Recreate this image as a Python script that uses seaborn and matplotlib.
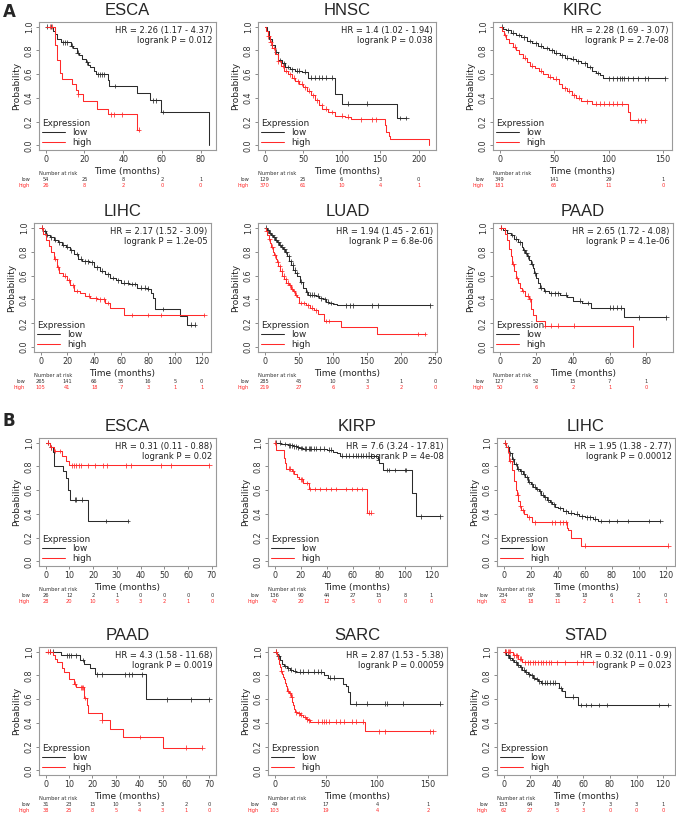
import numpy as np
import pandas as pd
import seaborn as sns
import matplotlib.pyplot as plt
from matplotlib.transforms import blended_transform_factory

# ---------------- data ----------------
# A: ESCA
a_esca_low_t = [0, 4, 5, 6, 8, 13, 14, 16, 17, 19, 21, 22, 23, 25, 26, 32, 32.7, 47, 54, 59.5, 84.5]
a_esca_low_s = [1.0, 0.96, 0.94, 0.90, 0.87, 0.84, 0.82, 0.78, 0.76, 0.73, 0.70, 0.68, 0.66, 0.63, 0.60, 0.55, 0.50, 0.44, 0.38, 0.28, 0.0]
a_esca_low_c = [1, 3, 9, 10, 11, 13.5, 16.5, 21.5, 27, 28, 29, 30, 36, 55.5, 57, 60.5]
a_esca_high_t = [0, 5, 6, 7.5, 8.5, 13.8, 15.5, 16.5, 19.5, 26.5, 32, 47, 48]
a_esca_high_s = [1.0, 0.85, 0.72, 0.61, 0.56, 0.52, 0.47, 0.43, 0.37, 0.31, 0.26, 0.13, 0.13]
a_esca_high_c = [2.5, 3.5, 16.8, 33.5, 35.5, 39.5, 48]
a_esca_risk_x = [0, 20, 40, 60, 80]
a_esca_risk_low = [54, 25, 8, 2, 1]
a_esca_risk_high = [26, 8, 2, 0, 0]

# A: HNSC
a_hnsc_low_t = [0, 3, 6, 9, 13, 17, 22, 27, 33, 40, 48, 56, 91, 101, 172, 184]
a_hnsc_low_s = [1.0, 0.96, 0.90, 0.85, 0.79, 0.72, 0.69, 0.66, 0.64, 0.63, 0.62, 0.57, 0.43, 0.35, 0.23, 0.23]
a_hnsc_low_c = [10, 15, 20, 25, 30, 35, 42, 45, 52, 60, 66, 70, 75, 80, 87, 108, 133, 176, 184]
a_hnsc_high_t = [0, 2, 4, 7, 10, 13, 17, 21, 25, 30, 35, 40, 45, 50, 55, 60, 65, 70, 75, 82, 92, 105, 112, 156, 158, 161, 163, 214]
a_hnsc_high_s = [1.0, 0.96, 0.92, 0.87, 0.82, 0.77, 0.71, 0.67, 0.63, 0.60, 0.57, 0.54, 0.52, 0.49, 0.46, 0.42, 0.38, 0.34, 0.31, 0.28, 0.25, 0.24, 0.22, 0.17, 0.11, 0.08, 0.05, 0.0]
a_hnsc_high_c = [5, 8, 12, 18, 24, 28, 33, 38, 43, 48, 53, 58, 63, 68, 74, 80, 88, 100, 108, 125, 140, 145]
a_hnsc_risk_x = [0, 50, 100, 150, 200]
a_hnsc_risk_low = [129, 25, 6, 3, 0]
a_hnsc_risk_high = [370, 61, 10, 4, 1]

# A: KIRC
a_kirc_low_t = [0, 3, 6, 10, 15, 20, 25, 30, 35, 40, 45, 50, 55, 60, 65, 70, 75, 80, 85, 88, 92, 95, 152]
a_kirc_low_s = [1.0, 0.98, 0.97, 0.95, 0.93, 0.91, 0.88, 0.86, 0.84, 0.82, 0.80, 0.78, 0.76, 0.74, 0.73, 0.71, 0.69, 0.66, 0.63, 0.61, 0.59, 0.565, 0.565]
a_kirc_low_c = [2, 8, 12, 18, 22, 28, 33, 38, 43, 48, 52, 57, 62, 67, 72, 78, 83, 90, 100, 104, 108, 110, 112, 114, 118, 122, 127, 133, 136, 152]
a_kirc_high_t = [0, 2, 4, 6, 9, 12, 15, 18, 21, 25, 28, 32, 36, 40, 44, 49, 54, 57, 62, 66, 70, 75, 85, 118, 120, 133]
a_kirc_high_s = [1.0, 0.96, 0.93, 0.90, 0.86, 0.83, 0.80, 0.77, 0.74, 0.70, 0.67, 0.65, 0.63, 0.60, 0.58, 0.56, 0.52, 0.48, 0.46, 0.42, 0.40, 0.37, 0.35, 0.28, 0.21, 0.21]
a_kirc_high_c = [5, 14, 23, 30, 38, 46, 52, 60, 64, 68, 73, 80, 88, 92, 96, 100, 104, 108, 112, 127, 130, 133]
a_kirc_risk_x = [0, 50, 100, 150]
a_kirc_risk_low = [349, 141, 29, 1]
a_kirc_risk_high = [181, 65, 11, 0]

# A: LIHC
a_lihc_low_t = [0, 2, 4, 7, 10, 13, 16, 19, 22, 25, 28, 31, 36, 40, 44, 48, 52, 56, 60, 66, 72, 80, 82, 84, 85.5, 104, 109, 115]
a_lihc_low_s = [1.0, 0.97, 0.94, 0.92, 0.90, 0.88, 0.86, 0.84, 0.81, 0.78, 0.74, 0.72, 0.71, 0.67, 0.64, 0.61, 0.58, 0.56, 0.54, 0.53, 0.50, 0.49, 0.45, 0.41, 0.32, 0.26, 0.19, 0.19]
a_lihc_low_c = [1, 3, 5, 8, 11, 14, 17, 20, 23, 27, 30, 33, 35, 38, 42, 46, 50, 54, 58, 62, 65, 68, 70, 75, 78, 80, 91, 112, 115]
a_lihc_high_t = [0, 2, 4, 6, 8, 10, 12, 14, 17, 20, 22, 25, 29, 33, 37, 42, 48, 52, 62, 122]
a_lihc_high_s = [1.0, 0.95, 0.90, 0.85, 0.80, 0.74, 0.67, 0.62, 0.60, 0.56, 0.52, 0.47, 0.45, 0.43, 0.41, 0.40, 0.37, 0.33, 0.27, 0.27]
a_lihc_high_c = [1, 11, 13, 18, 21, 24, 27, 36, 41, 44, 47, 50, 68, 80, 90, 122]
a_lihc_risk_x = [0, 20, 40, 60, 80, 100, 120]
a_lihc_risk_low = [265, 141, 66, 35, 16, 5, 0]
a_lihc_risk_high = [105, 41, 18, 7, 3, 1, 1]

# A: LUAD
a_luad_low_t = [0, 3, 6, 9, 12, 15, 18, 21, 24, 27, 30, 33, 36, 39, 42, 45, 48, 52, 56, 60, 63, 75, 80, 85, 90, 95, 100, 106, 243]
a_luad_low_s = [1.0, 0.98, 0.96, 0.94, 0.92, 0.90, 0.88, 0.86, 0.84, 0.82, 0.80, 0.76, 0.72, 0.69, 0.65, 0.62, 0.60, 0.55, 0.50, 0.46, 0.44, 0.43, 0.41, 0.40, 0.38, 0.37, 0.36, 0.35, 0.35]
a_luad_low_c = [2, 5, 8, 11, 14, 17, 20, 23, 26, 29, 32, 35, 38, 41, 44, 47, 54, 62, 66, 70, 73, 78, 83, 88, 93, 98, 120, 125, 130, 158, 166, 243]
a_luad_high_t = [0, 2, 4, 6, 8, 10, 12, 14, 16, 18, 20, 23, 26, 29, 32, 35, 38, 41, 44, 47, 50, 60, 66, 72, 78, 87, 112, 165, 235]
a_luad_high_s = [1.0, 0.97, 0.94, 0.91, 0.87, 0.84, 0.80, 0.77, 0.74, 0.71, 0.68, 0.64, 0.60, 0.57, 0.54, 0.52, 0.49, 0.47, 0.44, 0.42, 0.37, 0.35, 0.33, 0.31, 0.28, 0.22, 0.17, 0.11, 0.11]
a_luad_high_c = [3, 7, 11, 15, 19, 22, 25, 28, 31, 34, 37, 40, 43, 46, 53, 57, 63, 69, 75, 90, 95, 225, 235]
a_luad_risk_x = [0, 50, 100, 150, 200, 250]
a_luad_risk_low = [285, 45, 10, 3, 1, 0]
a_luad_risk_high = [219, 27, 6, 3, 2, 0]

# A: PAAD
a_paad_low_t = [0, 2, 4, 6, 8, 10, 12, 13, 14, 15, 16, 17, 18, 19, 20, 21, 22, 24, 27, 33, 37, 40, 45, 50, 68, 91]
a_paad_low_s = [1.0, 0.98, 0.96, 0.94, 0.91, 0.88, 0.84, 0.81, 0.79, 0.76, 0.73, 0.70, 0.66, 0.62, 0.58, 0.54, 0.50, 0.47, 0.45, 0.44, 0.42, 0.39, 0.37, 0.33, 0.25, 0.25]
a_paad_low_c = [1, 3, 7, 9, 11, 13.5, 14.5, 15.5, 17.5, 19.5, 22.5, 25, 28, 30, 32, 36, 44, 48, 60, 62, 64, 66, 76, 91]
a_paad_high_t = [0, 3, 4, 5, 6, 7, 8, 9, 10, 11, 12, 14, 16, 17, 18, 20, 25, 73]
a_paad_high_s = [1.0, 0.95, 0.90, 0.82, 0.76, 0.70, 0.64, 0.58, 0.54, 0.50, 0.47, 0.43, 0.40, 0.32, 0.27, 0.22, 0.18, 0.0]
a_paad_high_c = [1, 7.5, 9.5, 12.5, 15.5, 16.5, 25, 28, 32, 40.5]
a_paad_risk_x = [0, 20, 40, 60, 80]
a_paad_risk_low = [127, 52, 15, 7, 1]
a_paad_risk_high = [50, 6, 2, 1, 0]

# B: ESCA
b_esca_low_t = [0, 2, 3, 3.5, 7.5, 8.5, 9.5, 10.5, 18, 34.5]
b_esca_low_s = [1.0, 0.96, 0.92, 0.80, 0.76, 0.70, 0.60, 0.52, 0.34, 0.34]
b_esca_low_c = [1, 2.5, 12.5, 13, 15.5, 25.5, 34.5]
b_esca_high_t = [0, 2, 3.5, 7, 8.5, 10, 69]
b_esca_high_s = [1.0, 0.96, 0.93, 0.89, 0.85, 0.81, 0.81]
b_esca_high_c = [1, 2.5, 4, 6, 11, 12, 13, 14, 15, 18, 21, 24, 26, 34, 36, 48.5, 53, 69]
b_esca_risk_x = [0, 10, 20, 30, 40, 50, 60, 70]
b_esca_risk_low = [26, 12, 2, 1, 0, 0, 0, 0]
b_esca_risk_high = [28, 20, 10, 5, 3, 2, 1, 0]

# B: KIRP
b_kirp_low_t = [0, 5, 10, 14, 17, 19, 22, 40, 45, 48, 50, 79, 80, 83, 105, 108, 127]
b_kirp_low_s = [1.0, 0.99, 0.98, 0.97, 0.96, 0.955, 0.95, 0.94, 0.92, 0.91, 0.89, 0.86, 0.83, 0.77, 0.58, 0.38, 0.38]
b_kirp_low_c = [1, 4, 8, 11, 12, 13, 15, 16, 18, 20, 21, 23, 24, 26, 27, 28, 30, 32, 35, 38, 42, 43, 52, 55, 57, 60, 62, 64, 66, 68, 70, 74, 86, 88, 92, 100, 101, 112, 127]
b_kirp_high_t = [0, 1, 7, 8, 9, 13, 15, 17, 19, 22, 26, 71, 74]
b_kirp_high_s = [1.0, 0.94, 0.87, 0.83, 0.78, 0.76, 0.74, 0.71, 0.69, 0.66, 0.61, 0.41, 0.41]
b_kirp_high_c = [0.5, 11, 12, 14, 20, 21, 25, 27, 31, 35, 39, 43, 47, 55, 59, 63, 67, 72, 74]
b_kirp_risk_x = [0, 20, 40, 60, 80, 100, 120]
b_kirp_risk_low = [136, 90, 44, 27, 15, 8, 1]
b_kirp_risk_high = [47, 20, 12, 5, 0, 0, 0]

# B: LIHC
b_lihc_low_t = [0, 2, 4, 6, 8, 10, 12, 14, 16, 18, 20, 22, 24, 26, 28, 30, 32, 34, 36, 38, 40, 44, 48, 52, 56, 60, 66, 70, 116]
b_lihc_low_s = [1.0, 0.96, 0.91, 0.86, 0.82, 0.78, 0.76, 0.74, 0.71, 0.67, 0.65, 0.63, 0.61, 0.59, 0.56, 0.54, 0.52, 0.50, 0.48, 0.46, 0.45, 0.42, 0.41, 0.40, 0.38, 0.37, 0.36, 0.34, 0.34]
b_lihc_low_c = [1, 3, 5, 7, 9, 11, 13, 15, 17, 19, 21, 23, 25, 27, 29, 31, 33, 35, 37, 42, 46, 50, 54, 58, 62, 64, 68, 72, 78, 84, 92, 108, 116]
b_lihc_high_t = [0, 2, 3, 4, 6, 8, 9, 10, 11, 12, 13, 15, 17, 21, 47, 48, 50, 57, 122]
b_lihc_high_s = [1.0, 0.96, 0.92, 0.85, 0.77, 0.68, 0.60, 0.56, 0.51, 0.47, 0.43, 0.40, 0.37, 0.33, 0.28, 0.26, 0.20, 0.13, 0.13]
b_lihc_high_c = [1, 5, 10.5, 12.5, 14, 19, 23, 36, 38, 42, 44, 46, 60, 122]
b_lihc_risk_x = [0, 20, 40, 60, 80, 100, 120]
b_lihc_risk_low = [234, 87, 36, 18, 6, 2, 0]
b_lihc_risk_high = [82, 18, 11, 2, 1, 1, 1]

# B: PAAD
b_paad_low_t = [0, 6.4, 14.6, 16.3, 18.8, 21, 43, 70]
b_paad_low_s = [1.0, 0.97, 0.93, 0.90, 0.86, 0.81, 0.60, 0.60]
b_paad_low_c = [2, 3, 9, 10, 11, 13, 16, 22, 24, 34, 35.5, 37, 41, 52, 62, 70]
b_paad_high_t = [0, 3, 4, 5, 7, 8, 10, 12, 13, 16.5, 17.5, 18, 24, 27.5, 33, 50.2, 67]
b_paad_high_s = [1.0, 0.97, 0.94, 0.91, 0.86, 0.83, 0.77, 0.73, 0.70, 0.61, 0.55, 0.48, 0.42, 0.35, 0.28, 0.19, 0.19]
b_paad_high_c = [1, 2, 12.5, 15, 15.5, 16, 17, 24, 40.5, 60, 67]
b_paad_risk_x = [0, 10, 20, 30, 40, 50, 60, 70]
b_paad_risk_low = [31, 23, 15, 10, 5, 3, 2, 0]
b_paad_risk_high = [38, 25, 8, 5, 4, 3, 1, 0]

# B: SARC
b_sarc_low_t = [0, 2, 3, 5, 7, 9, 12, 15, 18, 21, 48, 52, 67, 70, 72, 74, 162]
b_sarc_low_s = [1.0, 0.98, 0.96, 0.93, 0.90, 0.88, 0.86, 0.85, 0.84, 0.83, 0.80, 0.78, 0.73, 0.71, 0.66, 0.56, 0.56]
b_sarc_low_c = [1, 4, 10, 13, 16, 20, 25, 28, 33, 38, 42, 45, 54, 58, 80, 90, 108, 110, 125, 162]
b_sarc_high_t = [0, 2, 3, 4, 5, 6, 7, 8, 9, 10, 11, 12, 14, 16, 17, 18, 19, 20, 22, 25, 28, 31, 33, 35, 88, 155]
b_sarc_high_s = [1.0, 0.97, 0.94, 0.90, 0.87, 0.84, 0.81, 0.79, 0.77, 0.74, 0.71, 0.67, 0.65, 0.62, 0.58, 0.55, 0.52, 0.49, 0.48, 0.47, 0.45, 0.43, 0.42, 0.41, 0.33, 0.33]
b_sarc_high_c = [1, 6.5, 13, 15, 16.5, 21, 24, 26, 30, 32, 34, 42, 46, 48, 50, 53, 60, 64, 68, 76, 80, 86, 102, 108, 152, 155]
b_sarc_risk_x = [0, 50, 100, 150]
b_sarc_risk_low = [49, 17, 4, 1]
b_sarc_risk_high = [103, 19, 4, 2]

# B: STAD
b_stad_low_t = [0, 2, 4, 6, 8, 10, 12, 14, 16, 18, 20, 22, 24, 26, 28, 42, 44, 46, 56, 124]
b_stad_low_s = [1.0, 0.97, 0.95, 0.93, 0.91, 0.89, 0.87, 0.85, 0.83, 0.81, 0.80, 0.78, 0.77, 0.75, 0.74, 0.69, 0.67, 0.62, 0.55, 0.55]
b_stad_low_c = [1, 3, 5, 7, 9, 11, 13, 15, 17, 19, 21, 23, 25, 27, 29, 31, 33, 35, 37, 39, 43, 52, 58, 62, 66, 72, 78, 117, 124]
b_stad_high_t = [0, 7, 11, 14, 67]
b_stad_high_s = [1.0, 0.97, 0.94, 0.91, 0.91]
b_stad_high_c = [1, 2, 3, 4, 5, 8, 9, 10, 12, 13, 16, 18, 20, 22, 24, 26, 28, 30, 32, 34, 36, 40, 46, 55, 60, 67]
b_stad_risk_x = [0, 20, 40, 60, 80, 100, 120]
b_stad_risk_low = [153, 64, 19, 7, 3, 3, 1]
b_stad_risk_high = [62, 27, 5, 3, 0, 0, 0]

titles = ['ESCA', 'HNSC', 'KIRC', 'LIHC', 'LUAD', 'PAAD',
          'ESCA', 'KIRP', 'LIHC', 'PAAD', 'SARC', 'STAD']
hr_texts = ['HR = 2.26 (1.17 - 4.37)', 'HR = 1.4 (1.02 - 1.94)', 'HR = 2.28 (1.69 - 3.07)',
            'HR = 2.17 (1.52 - 3.09)', 'HR = 1.94 (1.45 - 2.61)', 'HR = 2.65 (1.72 - 4.08)',
            'HR = 0.31 (0.11 - 0.88)', 'HR = 7.6 (3.24 - 17.81)', 'HR = 1.95 (1.38 - 2.77)',
            'HR = 4.3 (1.58 - 11.68)', 'HR = 2.87 (1.53 - 5.38)', 'HR = 0.32 (0.11 - 0.9)']
p_texts = ['logrank P = 0.012', 'logrank P = 0.038', 'logrank P = 2.7e-08',
           'logrank P = 1.2e-05', 'logrank P = 6.8e-06', 'logrank P = 4.1e-06',
           'logrank P = 0.02', 'logrank P = 4e-08', 'logrank P = 0.00012',
           'logrank P = 0.0019', 'logrank P = 0.00059', 'logrank P = 0.023']

# ---------------- style / layout ----------------
sns.set_theme(style='white')
plt.rcParams['font.family'] = ['DejaVu Sans']

W, H = 676, 817
fig = plt.figure(figsize=(W / 100, H / 100), dpi=100)

pal = {'low': '#2b2b2b', 'high': '#ff2a2a'}

# axes boxes in pixels: left, top, width, height
boxes = [(39, 22, 177, 128), (258, 22, 178, 128), (493, 22, 179, 128),
         (34, 223, 177, 129), (258, 223, 179, 129), (493, 223, 180, 129),
         (39, 438, 177, 128), (268, 438, 179, 128), (497, 438, 178, 128),
         (39, 647, 177, 128), (268, 647, 179, 128), (497, 647, 178, 128)]

panels = [
    (a_esca_low_t, a_esca_low_s, a_esca_low_c, a_esca_high_t, a_esca_high_s, a_esca_high_c, a_esca_risk_x, a_esca_risk_low, a_esca_risk_high),
    (a_hnsc_low_t, a_hnsc_low_s, a_hnsc_low_c, a_hnsc_high_t, a_hnsc_high_s, a_hnsc_high_c, a_hnsc_risk_x, a_hnsc_risk_low, a_hnsc_risk_high),
    (a_kirc_low_t, a_kirc_low_s, a_kirc_low_c, a_kirc_high_t, a_kirc_high_s, a_kirc_high_c, a_kirc_risk_x, a_kirc_risk_low, a_kirc_risk_high),
    (a_lihc_low_t, a_lihc_low_s, a_lihc_low_c, a_lihc_high_t, a_lihc_high_s, a_lihc_high_c, a_lihc_risk_x, a_lihc_risk_low, a_lihc_risk_high),
    (a_luad_low_t, a_luad_low_s, a_luad_low_c, a_luad_high_t, a_luad_high_s, a_luad_high_c, a_luad_risk_x, a_luad_risk_low, a_luad_risk_high),
    (a_paad_low_t, a_paad_low_s, a_paad_low_c, a_paad_high_t, a_paad_high_s, a_paad_high_c, a_paad_risk_x, a_paad_risk_low, a_paad_risk_high),
    (b_esca_low_t, b_esca_low_s, b_esca_low_c, b_esca_high_t, b_esca_high_s, b_esca_high_c, b_esca_risk_x, b_esca_risk_low, b_esca_risk_high),
    (b_kirp_low_t, b_kirp_low_s, b_kirp_low_c, b_kirp_high_t, b_kirp_high_s, b_kirp_high_c, b_kirp_risk_x, b_kirp_risk_low, b_kirp_risk_high),
    (b_lihc_low_t, b_lihc_low_s, b_lihc_low_c, b_lihc_high_t, b_lihc_high_s, b_lihc_high_c, b_lihc_risk_x, b_lihc_risk_low, b_lihc_risk_high),
    (b_paad_low_t, b_paad_low_s, b_paad_low_c, b_paad_high_t, b_paad_high_s, b_paad_high_c, b_paad_risk_x, b_paad_risk_low, b_paad_risk_high),
    (b_sarc_low_t, b_sarc_low_s, b_sarc_low_c, b_sarc_high_t, b_sarc_high_s, b_sarc_high_c, b_sarc_risk_x, b_sarc_risk_low, b_sarc_risk_high),
    (b_stad_low_t, b_stad_low_s, b_stad_low_c, b_stad_high_t, b_stad_high_s, b_stad_high_c, b_stad_risk_x, b_stad_risk_low, b_stad_risk_high),
]


def surv_at(t_list, s_list, t):
    i = np.searchsorted(t_list, t, side='right') - 1
    return s_list[max(i, 0)]


for k, (lt, ls, lc, ht, hs, hc, rx, rl, rh) in enumerate(panels):
    left, top, w, h = boxes[k]
    ax = fig.add_axes([left / W, 1 - (top + h) / H, w / W, h / H])

    curves = pd.concat([
        pd.DataFrame({'time': lt, 'surv': ls, 'group': 'low'}),
        pd.DataFrame({'time': ht, 'surv': hs, 'group': 'high'}),
    ])
    cens = pd.concat([
        pd.DataFrame({'time': lc, 'surv': [surv_at(lt, ls, c) for c in lc], 'group': 'low'}),
        pd.DataFrame({'time': hc, 'surv': [surv_at(ht, hs, c) for c in hc], 'group': 'high'}),
    ])

    sns.lineplot(data=curves, x='time', y='surv', hue='group', hue_order=['low', 'high'],
                 palette=pal, estimator=None, sort=False, drawstyle='steps-post',
                 linewidth=0.75, ax=ax)
    sns.scatterplot(data=cens, x='time', y='surv', hue='group', hue_order=['low', 'high'],
                    palette=pal, marker='+', s=12, linewidth=0.55, legend=False, ax=ax)

    xmax = max(lt[-1], ht[-1])
    ax.set_xlim(-0.04 * xmax, 1.04 * xmax)
    ax.set_ylim(-0.04, 1.04)
    ax.set_xticks(rx)
    ax.set_xticklabels([str(v) for v in rx])
    ax.set_yticks([0, 0.2, 0.4, 0.6, 0.8, 1.0])
    ax.set_yticklabels(['0.0', '0.2', '0.4', '0.6', '0.8', '1.0'], rotation=90, va='center')

    for sp in ax.spines.values():
        sp.set_color('#9a9a9a')
        sp.set_linewidth(0.8)
    ax.tick_params(bottom=True, left=True, direction='out', length=2.5, width=0.6,
                   color='#777777', labelsize=5.8, labelcolor='#333333', pad=1.2)

    ax.set_xlabel('Time (months)', fontsize=6.5, color='#222222', labelpad=2)
    ax.set_ylabel('Probability', fontsize=6.5, color='#222222', labelpad=3)
    ax.set_title(titles[k], fontsize=12, family='Liberation Sans', pad=5)

    ax.text(0.98, 0.97, hr_texts[k] + '\n' + p_texts[k], transform=ax.transAxes,
            ha='right', va='top', fontsize=6.0, color='#222222', linespacing=1.15)

    handles, labels = ax.get_legend_handles_labels()
    ax.legend(handles, labels, title='Expression', loc='lower left', frameon=False,
              fontsize=6.4, title_fontsize=6.4, handlelength=2.6, handletextpad=0.8,
              labelspacing=0.05, borderaxespad=0.15, borderpad=0.2, alignment='left')

    trans = blended_transform_factory(ax.transData, ax.transAxes)
    ax.text(0.0, -0.185, 'Number at risk', transform=ax.transAxes, ha='left', va='center',
            fontsize=3.7, color='#333333')
    ax.text(-0.05, -0.232, 'low', transform=ax.transAxes, ha='right', va='center',
            fontsize=3.7, color='#333333')
    ax.text(-0.05, -0.279, 'high', transform=ax.transAxes, ha='right', va='center',
            fontsize=3.7, color=pal['high'])
    for xv, nl, nh in zip(rx, rl, rh):
        ax.text(xv, -0.232, str(nl), transform=trans, ha='center', va='center',
                fontsize=3.7, color='#333333')
        ax.text(xv, -0.279, str(nh), transform=trans, ha='center', va='center',
                fontsize=3.7, color=pal['high'])

fig.text(3 / W, 1 - 12 / H, 'A', fontsize=12, weight='bold', va='center', ha='left')
fig.text(3 / W, 1 - 421 / H, 'B', fontsize=12, weight='bold', va='center', ha='left')

fig.savefig('out.png', dpi=100)
